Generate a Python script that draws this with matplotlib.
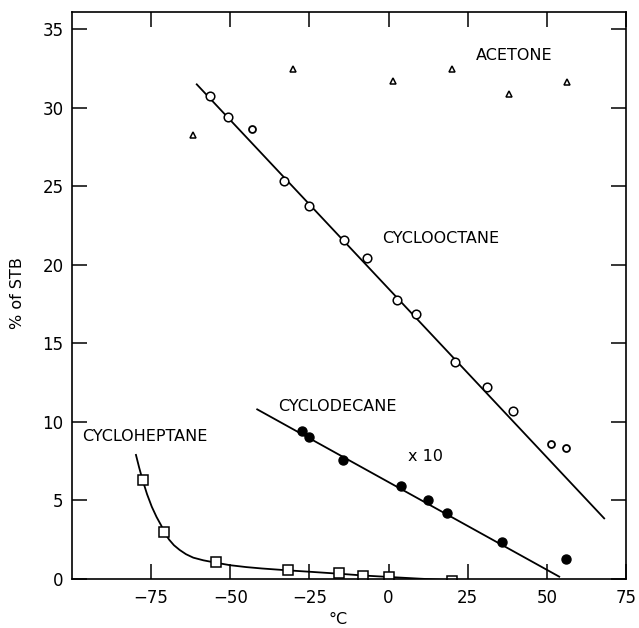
import matplotlib
matplotlib.use("Agg")
import matplotlib.pyplot as plt

# ---- data ----
cyclooctane_x = [-56.4, -50.7, -33.1, -25.1, -14.1, -6.9, 2.5, 8.7, 21.0, 31.0, 39.2]
cyclooctane_y = [30.76, 29.43, 25.33, 23.74, 21.58, 20.41, 17.76, 16.85, 13.83, 12.24, 10.69]
cyclooctane_extra_x = [-43.0, 51.3, 56.0]
cyclooctane_extra_y = [28.64, 8.59, 8.36]
cyclooctane_fit_x = [-60.6, 68.1]
cyclooctane_fit_y = [31.49, 3.86]

acetone_x = [-61.7, -30.1, 1.5, 19.9, 38.0, 56.2]
acetone_y = [28.26, 32.44, 31.70, 32.44, 30.85, 31.62]

cyclodecane_x = [-27.5, -25.0, -14.5, 3.9, 12.5, 18.5, 35.9, 55.9]
cyclodecane_y = [9.42, 9.02, 7.57, 5.92, 5.03, 4.18, 2.38, 1.25]
cyclodecane_fit_x = [-41.5, 53.9]
cyclodecane_fit_y = [10.80, 0.15]

cycloheptane_x = [-77.7, -70.8, -54.6, -31.7, -15.7, -8.0, 0.0, 20.1]
cycloheptane_y = [6.30, 2.97, 1.06, 0.60, 0.36, 0.19, 0.15, -0.12]
cycloheptane_curve_x = [-79.8, -78.8, -77.7, -76.3, -74.8, -73.3, -71.8, -70.8, -69.3,
                        -67.8, -66.0, -64.0, -61.7, -58.5, -54.6, -50.1,
                        -45.0, -40.0, -31.7, -24.0, -15.9, -7.7, 1.0, 10.0, 20.0]
cycloheptane_curve_y = [7.90, 7.10, 6.30, 5.40, 4.60, 3.95, 3.40, 2.95, 2.50,
                        2.15, 1.85, 1.58, 1.36, 1.19, 1.04, 0.88,
                        0.76, 0.67, 0.55, 0.45, 0.34, 0.22, 0.12, 0.02, -0.08]

x_ticks = [-75, -50, -25, 0, 25, 50, 75]
y_ticks = [0, 5, 10, 15, 20, 25, 30, 35]

plt.rcParams['font.family'] = ['DejaVu Sans']

fig = plt.figure(figsize=(6.39, 6.28), dpi=100)
ax = fig.add_axes([0.1127, 0.078, 0.867, 0.903])

lw = 1.3
# fit lines
ax.plot(cyclooctane_fit_x, cyclooctane_fit_y, color='black', lw=lw)
ax.plot(cyclodecane_fit_x, cyclodecane_fit_y, color='black', lw=lw)
ax.plot(cycloheptane_curve_x, cycloheptane_curve_y, color='black', lw=lw,
        solid_joinstyle='round')

# markers
ax.plot(cyclooctane_x, cyclooctane_y, 'o', ms=6.2, mfc='white', mec='black', mew=1.1)
ax.plot(cyclooctane_extra_x, cyclooctane_extra_y, 'o', ms=5, mfc='white', mec='black', mew=1.3)
ax.plot(acetone_x, acetone_y, '^', ms=5, mfc='white', mec='black', mew=1.1)
ax.plot(cyclodecane_x, cyclodecane_y, 'o', ms=6.5, mfc='black', mec='black')
ax.plot(cycloheptane_x, cycloheptane_y, 's', ms=6.5, mfc='white', mec='black', mew=1.1)

# labels
fs = 11.5
ax.text(27.6, 33.3, 'ACETONE', fontsize=fs, ha='left', va='center')
ax.text(-2.2, 21.7, 'CYCLOOCTANE', fontsize=fs, ha='left', va='center')
ax.text(-34.8, 11.0, 'CYCLODECANE', fontsize=fs, ha='left', va='center')
ax.text(6.2, 7.8, 'x 10', fontsize=fs, ha='left', va='center')
ax.text(-96.9, 9.1, 'CYCLOHEPTANE', fontsize=fs, ha='left', va='center')

ax.set_xlim(-100, 75)
ax.set_ylim(0, 36.1)
ax.set_xticks(x_ticks)
ax.set_yticks(y_ticks)
ax.set_xticklabels([str(v).replace('-', '\u2212') for v in x_ticks])
ax.tick_params(direction='in', length=11, width=1.1, top=True, right=True,
               labelsize=12, pad=6)
ax.tick_params(axis='x', pad=7)
for s in ax.spines.values():
    s.set_linewidth(1.2)

ax.set_ylabel('% of STB', fontsize=11.5)
ax.yaxis.set_label_coords(-0.085, 0.505)
ax.set_xlabel('°C', fontsize=11.5)
ax.xaxis.set_label_coords(0.48, -0.058)

fig.savefig('out.png', dpi=100)
